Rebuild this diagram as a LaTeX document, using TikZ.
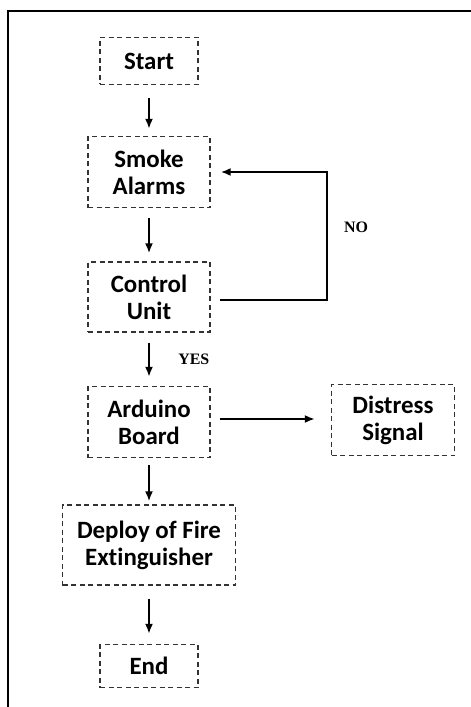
\documentclass[tikz,border=0pt]{standalone}
\usepackage{fontspec}
\setmainfont{Carlito}[Ligatures=NoCommon]
\newfontfamily\lblfont{Liberation Serif}
\usepackage{tikz}
\usetikzlibrary{positioning,arrows.meta}

\begin{document}
\begin{tikzpicture}[x=1bp, y=-1bp,
  box/.style={draw=black!80, dashed, dash pattern=on 5bp off 3.5bp, line width=1.3bp, align=center, font=\fontsize{25}{27}\selectfont\bfseries, inner sep=0pt},
  arr/.style={-{Latex[length=10bp, width=8bp]}, line width=2bp},
  lbl/.style={font=\lblfont\fontsize{16}{18}\selectfont\bfseries},
]
\useasboundingbox (0,0) rectangle (471,707);
\draw[line width=2bp] (8,708) -- (8,11) -- (472,11);

\node[box, minimum width=98bp, minimum height=47bp] (start) at (149,61) {Start};
\node[box, minimum width=122bp, minimum height=71bp] (smoke) at (149,172) {Smoke\\Alarms};
\node[box, minimum width=122bp, minimum height=70bp] (ctrl) at (149,297) {Control\\Unit};
\node[box, minimum width=122bp, minimum height=71bp] (ard) at (149,422) {Arduino\\Board};
\node[box, minimum width=123bp, minimum height=71bp] (dist) at (393,420) {Distress\\Signal};
\node[box, minimum width=173bp, minimum height=80bp] (deploy) at (149,545) {Deploy of Fire\\Extinguisher};
\node[box, minimum width=98bp, minimum height=43bp] (end) at (149,666) {End};

\coordinate (loop) at (327,300);

\draw[arr, shorten <=13bp, shorten >=7bp] (start) -- (smoke);
\draw[arr, shorten <=10bp, shorten >=8bp] (smoke) -- (ctrl);
\draw[arr, shorten <=10bp, shorten >=9bp] (ctrl) -- (ard)
  node[midway, right=25bp, lbl] (yes) {YES};
\draw[arr, shorten <=7bp, shorten >=3bp] (ard) -- (deploy);
\draw[arr, shorten <=13bp, shorten >=10bp] (deploy) -- (end);
\draw[arr, shorten <=9bp, shorten >=16bp] (ard.east |- 0,419) -- (dist.west |- 0,419);

\draw[arr, shorten <=9bp, shorten >=10bp] (ctrl.east |- loop) -- (loop) |- (smoke.east);
\node[lbl] (no) at (356,227) {NO};
\end{tikzpicture}
\end{document}
